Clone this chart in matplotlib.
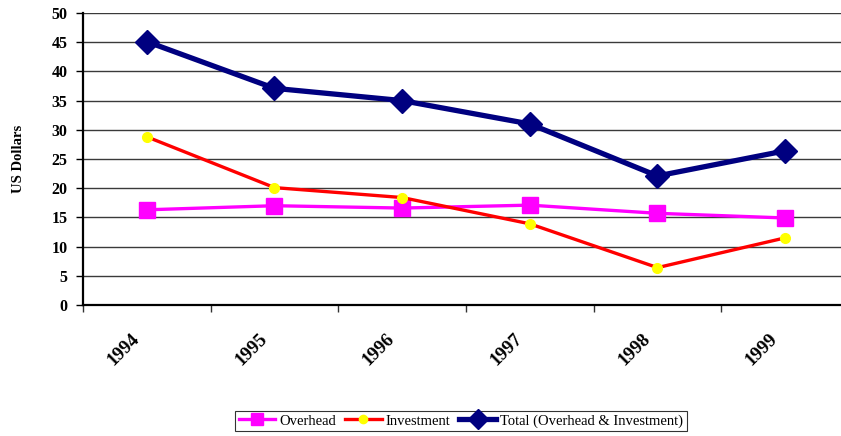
import matplotlib
matplotlib.use("Agg")
import matplotlib.pyplot as plt
from matplotlib.transforms import ScaledTranslation

years = ["1994", "1995", "1996", "1997", "1998", "1999"]
overhead = [16.3, 17.0, 16.6, 17.1, 15.7, 14.9]
investment = [28.8, 20.1, 18.4, 13.9, 6.4, 11.5]
total = [45.1, 37.1, 35.0, 31.0, 22.1, 26.4]

W, H = 841, 436
fig = plt.figure(figsize=(W / 100, H / 100), dpi=100)
plt.rcParams['font.family'] = ['Liberation Serif', 'DejaVu Serif']

left, right, top, bottom = 83, 849, 13, 305
ax = fig.add_axes([left / W, 1 - bottom / H, (right - left) / W, (bottom - top) / H])

x = list(range(len(years)))
l1, = ax.plot(x, overhead, color='#FF00FF', lw=2.4, marker='s', markersize=11,
              markerfacecolor='#FF00FF', markeredgecolor='#FF00FF', label='Overhead', zorder=3)
l2, = ax.plot(x, investment, color='#FF0000', lw=2.4, marker='o', markersize=7,
              markerfacecolor='#FFFF00', markeredgecolor='#FFFF00', label='Investment', zorder=4)
l3, = ax.plot(x, total, color='#000080', lw=3.8, marker='D', markersize=12,
              markerfacecolor='#000080', markeredgecolor='#000080',
              label='Total (Overhead & Investment)', zorder=5)

ax.set_xlim(-0.5, len(years) - 0.5)
ax.set_ylim(0, 50)
ax.set_yticks(range(0, 51, 5))
ax.set_yticklabels([str(v) for v in range(0, 51, 5)], fontsize=11.5, fontweight='bold')
ax.yaxis.grid(True, color='#3a3a3a', lw=1.0)
ax.set_axisbelow(True)

ax.set_xticks([i - 0.5 for i in range(len(years))])
ax.set_xticklabels([])
ax.tick_params(axis='x', direction='out', length=5, width=1, color='#333333')
ax.tick_params(axis='y', direction='out', length=5, width=1, pad=6)

for s in ['top', 'right']:
    ax.spines[s].set_visible(False)
for s in ['left', 'bottom']:
    ax.spines[s].set_linewidth(1.6)
    ax.spines[s].set_color('black')

off = ScaledTranslation(-16 / 100, -25 / 100, fig.dpi_scale_trans)
for i, yr in enumerate(years):
    ax.text(i, 0, yr, transform=ax.get_xaxis_transform() + off,
            rotation=45, rotation_mode='anchor', ha='right', va='top',
            fontsize=13.5, fontweight='bold')

fig.text(18 / W, 1 - 159 / H, 'US Dollars', rotation=90, ha='center', va='center',
         fontsize=10.5, fontweight='bold')

leg = fig.legend(handles=[l1, l2, l3], loc='center', bbox_to_anchor=(461 / W, 1 - 421 / H),
                 ncol=3, frameon=True, fancybox=False, fontsize=10.5, handlelength=2.5,
                 columnspacing=0.6, handletextpad=0.3, borderpad=0.25, markerscale=0.85)
leg.get_frame().set_edgecolor('black')
leg.get_frame().set_linewidth(0.8)

fig.savefig('out.png', dpi=100)
